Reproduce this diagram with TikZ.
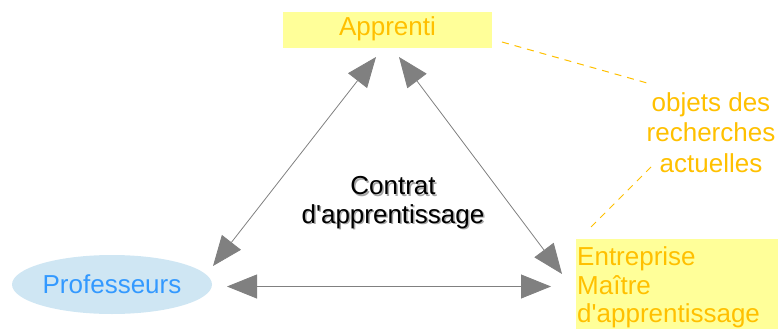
\documentclass[tikz,border=0pt]{standalone}
\usepackage{fontspec}
\setmainfont{Liberation Sans}
\usetikzlibrary{arrows.meta,shapes.geometric}
\definecolor{boxyellow}{HTML}{FFFF99}
\definecolor{txtyellow}{HTML}{FFC000}
\definecolor{ellblue}{HTML}{CFE6F3}
\definecolor{txtblue}{HTML}{3399FF}
\definecolor{arrgray}{HTML}{808080}
\newcommand{\qs}{\textquotesingle}
\tikzset{
  big/.style={font=\fontsize{26}{28.5}\selectfont},
  link/.style={draw=arrgray, line width=0.8pt,
    {Triangle[length=30pt,width=24pt,fill=arrgray]}-{Triangle[length=30pt,width=24pt,fill=arrgray]}},
  note/.style={draw=txtyellow, line width=1pt, dash pattern=on 7pt off 6pt},
}
\begin{document}
\begin{tikzpicture}[x=1pt,y=-1pt]
\useasboundingbox (0,0) rectangle (778,329);
% boxes
\fill[boxyellow] (283,12) rectangle (492,48);
\node[big, text=txtyellow, inner sep=0, anchor=base] (app) at (387.5,35.5) {Apprenti};
\fill[boxyellow] (576,239) rectangle (778,329);
\node[big, text=txtyellow, inner sep=0, anchor=north west, align=left] (ent) at (577,246.5)
  {Entreprise\\Maître\\d\qs apprentissage};
\node[ellipse, fill=ellblue, minimum width=200pt, minimum height=59pt, inner sep=0,
  big, text=txtblue] (prof) at (112,284.5) {Professeurs};
% central text with shadow
\node[big, text=gray!70, align=center, inner sep=0, anchor=base] at (394.5,224.5) {Contrat\\d\qs apprentissage};
\node[big, text=black, align=center, inner sep=0, anchor=base] (contrat) at (393,223) {Contrat\\d\qs apprentissage};
% note
\node[font=\fontsize{26}{30.5}\selectfont, text=txtyellow, align=center, inner sep=0, anchor=base] (obj) at (711,172)
  {objets des\\recherches\\actuelles};
% arrow end points
\coordinate (a1) at (376,57);
\coordinate (p1) at (213,266);
\coordinate (a2) at (399,57);
\coordinate (e2) at (562,274);
\coordinate (p3) at (227,286.5);
\coordinate (e3) at (551,286.5);
\draw[link] (p1) -- (a1);
\draw[link] (a2) -- (e2);
\draw[link] (p3) -- (e3);
% dashed note lines
\coordinate (n1s) at (502,42);
\coordinate (n1e) at (647,83);
\coordinate (n2s) at (591,227);
\coordinate (n2e) at (653,165);
\draw[note] (n1s) -- (n1e);
\draw[note] (n2s) -- (n2e);
\end{tikzpicture}
\end{document}
